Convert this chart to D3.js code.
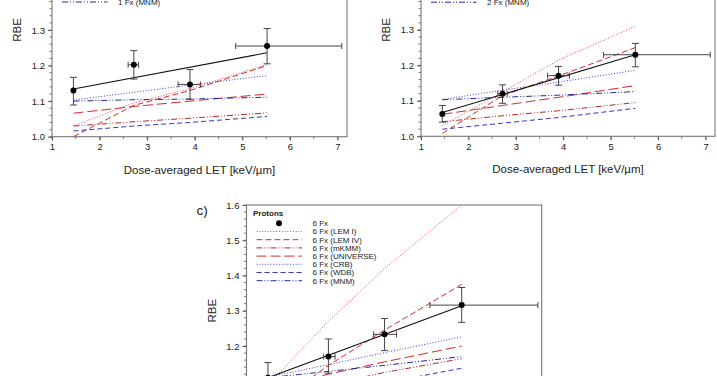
<!DOCTYPE html>
<html><head><meta charset="utf-8">
<script src="https://cdn.jsdelivr.net/npm/d3@7"></script>
<style>
body{margin:0;background:#fff}
svg{display:block}
text{font-family:"Liberation Sans",Arial,Helvetica,sans-serif;fill:#222}
</style>
</head><body>
<svg id="chart" width="717" height="376"></svg>
<script>
// ---------- data ----------
const letPoints = [1.45, 2.72, 3.9, 5.52];
const fitLET = [1.45, 5.52];
const xTicks = [1, 2, 3, 4, 5, 6, 7];
const yTicks = [1.0, 1.1, 1.2, 1.3, 1.4, 1.5, 1.6];
const modelNames = ["LEM I", "LEM IV", "mKMM", "UNIVERSE", "CRB", "WDB", "MNM"];

// panel a) 1 Fx
const rbeA = [1.130, 1.202, 1.147, 1.255];
const errHiA = [1.167, 1.242, 1.189, 1.304];
const errLoA = [1.089, 1.162, 1.105, 1.205];
const letLoA = [1.45, 2.60, 3.65, 4.86];
const letHiA = [1.45, 2.82, 4.12, 7.09];
const fitA = [1.134, 1.236];
const lemIA = [1.030, 1.095, 1.135, 1.203];
const lemIVA = [1.000, 1.088, 1.130, 1.200];
const mkmmA = [1.030, 1.042, 1.052, 1.067];
const universeA = [1.066, 1.085, 1.100, 1.120];
const crbA = [1.103, 1.125, 1.145, 1.172];
const wdbA = [1.016, 1.030, 1.040, 1.057];
const mnmA = [1.100, 1.104, 1.106, 1.111];

// panel b) 2 Fx
const rbeB = [1.063, 1.120, 1.171, 1.230];
const errHiB = [1.087, 1.145, 1.197, 1.262];
const errLoB = [1.040, 1.093, 1.144, 1.196];
const letLoB = [1.45, 2.62, 3.67, 4.85];
const letHiB = [1.45, 2.82, 4.13, 7.10];
const fitB = [1.067, 1.230];
const lemIB = [1.030, 1.125, 1.215, 1.310];
const lemIVB = [1.008, 1.115, 1.170, 1.250];
const mkmmB = [1.041, 1.058, 1.072, 1.095];
const universeB = [1.062, 1.087, 1.110, 1.143];
const crbB = [1.104, 1.130, 1.153, 1.186];
const wdbB = [1.020, 1.037, 1.053, 1.079];
const mnmB = [1.103, 1.110, 1.116, 1.126];

// panel c) 6 Fx
const rbeC = [1.110, 1.170, 1.233, 1.316];
const errHiC = [1.153, 1.220, 1.278, 1.366];
const errLoC = [1.067, 1.123, 1.187, 1.267];
const letLoC = [1.45, 2.62, 3.67, 4.85];
const letHiC = [1.45, 2.86, 4.15, 7.12];
const fitC = [1.110, 1.314];
const lemIC = [1.090, 1.270, 1.420, 1.600];
const lemIVC = [1.020, 1.145, 1.245, 1.375];
const mkmmC = [1.060, 1.090, 1.125, 1.164];
const universeC = [1.080, 1.120, 1.155, 1.200];
const crbC = [1.112, 1.147, 1.181, 1.226];
const wdbC = [1.030, 1.065, 1.095, 1.137];
const mnmC = [1.110, 1.128, 1.145, 1.170];

// ---------- styles ----------
const modelStyles = {
  "LEM I":    {color: "#d9465a", dash: "1,1.8"},
  "LEM IV":   {color: "#d42a2a", dash: "6,3"},
  "mKMM":     {color: "#b02828", dash: "6,2,1,2,1,2"},
  "UNIVERSE": {color: "#d42a2a", dash: "10,4"},
  "CRB":      {color: "#4040d8", dash: "1,1.8"},
  "WDB":      {color: "#3535c8", dash: "5,3"},
  "MNM":      {color: "#26269a", dash: "6,2,1,2,1,2"}
};

const panels = [
  {label: "a)", fx: "1 Fx", left: 52, right: 347, top: -76.7, bottom: 136.7, lgShift: 3,
   rbe: rbeA, hi: errHiA, lo: errLoA, xlo: letLoA, xhi: letHiA, fit: fitA,
   models: [lemIA, lemIVA, mkmmA, universeA, crbA, wdbA, mnmA]},
  {label: "b)", fx: "2 Fx", left: 421, right: 715, top: -76.5, bottom: 136.3, lgShift: 3,
   rbe: rbeB, hi: errHiB, lo: errLoB, xlo: letLoB, xhi: letHiB, fit: fitB,
   models: [lemIB, lemIVB, mkmmB, universeB, crbB, wdbB, mnmB]},
  {label: "c)", fx: "6 Fx", left: 246.5, right: 541.7, top: 205, bottom: 416.5, lgShift: 0,
   rbe: rbeC, hi: errHiC, lo: errLoC, xlo: letLoC, xhi: letHiC, fit: fitC,
   models: [lemIC, lemIVC, mkmmC, universeC, crbC, wdbC, mnmC]}
];

const svg = d3.select("#chart");
const axisCol = "#555";

panels.forEach(p => {
  const x = d3.scaleLinear().domain([1, 7.2]).range([p.left, p.right]);
  const y = d3.scaleLinear().domain([1.0, 1.6]).range([p.bottom, p.top]);
  const g = svg.append("g");

  // minor ticks
  const yMinor = d3.range(1.0, 1.6001, 0.02);
  g.selectAll(".ym").data(yMinor).join("line")
    .attr("x1", p.left - 2.5).attr("x2", p.left)
    .attr("y1", d => y(d)).attr("y2", d => y(d))
    .attr("stroke", axisCol).attr("stroke-width", 0.8);
  const xMinor = d3.range(1, 7.2001, 0.5);
  g.selectAll(".xm").data(xMinor).join("line")
    .attr("x1", d => x(d)).attr("x2", d => x(d))
    .attr("y1", p.bottom).attr("y2", p.bottom + 2.5)
    .attr("stroke", axisCol).attr("stroke-width", 0.8);

  // axes
  const yAxis = d3.axisLeft(y).tickValues(yTicks).tickFormat(d3.format(".1f")).tickSize(4).tickPadding(3);
  const xAxis = d3.axisBottom(x).tickValues(xTicks).tickFormat(d3.format("d")).tickSize(4).tickPadding(3);
  const ya = g.append("g").attr("transform", `translate(${p.left},0)`).call(yAxis);
  const xa = g.append("g").attr("transform", `translate(0,${p.bottom})`).call(xAxis);
  [ya, xa].forEach(a => {
    a.select(".domain").remove();
    a.selectAll("line").attr("stroke", axisCol);
    a.selectAll("text").style("font-size", "9.5px").attr("fill", "#222");
  });

  // frame
  g.append("rect").attr("x", p.left).attr("y", p.top)
    .attr("width", p.right - p.left).attr("height", p.bottom - p.top)
    .attr("fill", "none").attr("stroke", "#777").attr("stroke-width", 1.1);

  // titles
  g.append("text").attr("x", (p.left + p.right) / 2).attr("y", p.bottom + 37)
    .attr("text-anchor", "middle").style("font-size", "11.5px")
    .text("Dose-averaged LET [keV/\u00b5m]");
  g.append("text")
    .attr("transform", `translate(${p.left - 35},${(p.top + p.bottom) / 2}) rotate(-90)`)
    .attr("text-anchor", "middle").attr("dy", "0.35em").style("font-size", "11.5px").text("RBE");
  g.append("text").attr("x", p.left - 50).attr("y", p.top + 10)
    .style("font-size", "13.5px").text(p.label);

  // clip
  const clipId = "clip" + p.label[0];
  svg.append("clipPath").attr("id", clipId).append("rect")
    .attr("x", p.left).attr("y", p.top).attr("width", p.right - p.left).attr("height", p.bottom - p.top);
  const plot = g.append("g").attr("clip-path", `url(#${clipId})`);

  const line = d3.line().x(d => x(d[0])).y(d => y(d[1]));

  // model lines
  p.models.forEach((vals, i) => {
    const st = modelStyles[modelNames[i]];
    plot.append("path").datum(letPoints.map((l, k) => [l, vals[k]]))
      .attr("d", line).attr("fill", "none")
      .attr("stroke", st.color).attr("stroke-width", 1)
      .attr("stroke-dasharray", st.dash);
  });

  // fit line
  plot.append("path").datum(fitLET.map((l, k) => [l, p.fit[k]]))
    .attr("d", line).attr("fill", "none").attr("stroke", "#111").attr("stroke-width", 1.1);

  // error bars
  const eb = plot.append("g").attr("stroke", "#444").attr("stroke-width", 1);
  letPoints.forEach((l, k) => {
    const cx = x(l);
    eb.append("line").attr("x1", cx).attr("x2", cx).attr("y1", y(p.lo[k])).attr("y2", y(p.hi[k]));
    [p.lo[k], p.hi[k]].forEach(v => eb.append("line")
      .attr("x1", cx - 3.5).attr("x2", cx + 3.5).attr("y1", y(v)).attr("y2", y(v)));
    if (p.xhi[k] - p.xlo[k] > 0.01) {
      const cy = y(p.rbe[k]);
      eb.append("line").attr("x1", x(p.xlo[k])).attr("x2", x(p.xhi[k])).attr("y1", cy).attr("y2", cy);
      [p.xlo[k], p.xhi[k]].forEach(v => eb.append("line")
        .attr("x1", x(v)).attr("x2", x(v)).attr("y1", cy - 3).attr("y2", cy + 3));
    }
  });

  // points
  plot.selectAll(".pt").data(letPoints).join("circle")
    .attr("cx", d => x(d)).attr("cy", (d, k) => y(p.rbe[k])).attr("r", 3).attr("fill", "#000");

  // legend
  const lg = g.append("g");
  const rowY = i => p.top + p.lgShift + 18.3 + i * 8.2;
  lg.append("text").attr("x", p.left + 6.5).attr("y", p.top + p.lgShift + 10.8)
    .style("font-size", "8px").style("font-weight", "bold").text("Protons");
  lg.append("circle").attr("cx", p.left + 32.5).attr("cy", rowY(0)).attr("r", 3).attr("fill", "#000");
  lg.append("text").attr("x", p.left + 66).attr("y", rowY(0)).attr("dy", "0.35em")
    .style("font-size", "8px").text(p.fx);
  modelNames.forEach((n, i) => {
    const st = modelStyles[n];
    lg.append("line").attr("x1", p.left + 10).attr("x2", p.left + 55.5)
      .attr("y1", rowY(i + 1)).attr("y2", rowY(i + 1))
      .attr("stroke", st.color).attr("stroke-width", 1).attr("stroke-dasharray", st.dash);
    lg.append("text").attr("x", p.left + 66).attr("y", rowY(i + 1)).attr("dy", "0.35em")
      .style("font-size", "8px").text(`${p.fx} (${n})`);
  });
});
</script>
</body></html>
